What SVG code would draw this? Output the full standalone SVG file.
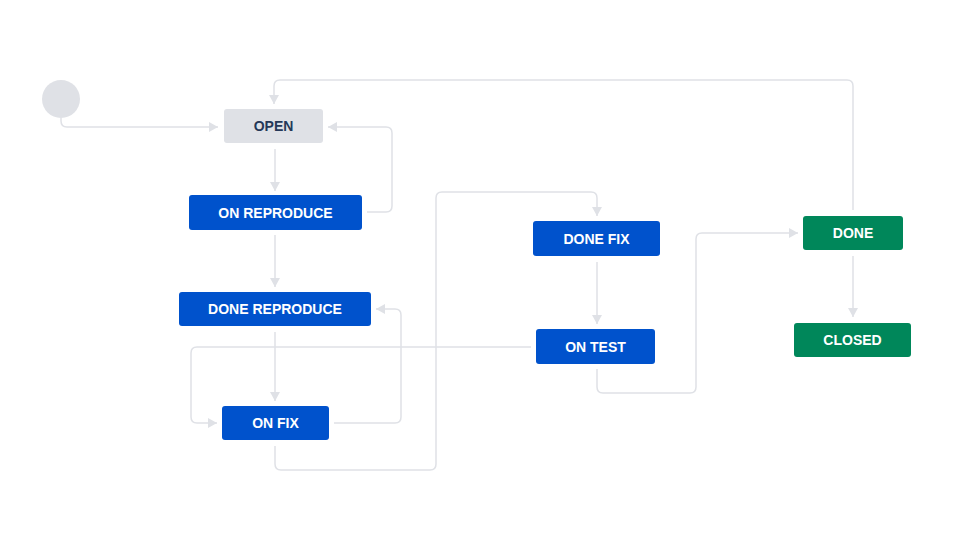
<svg xmlns="http://www.w3.org/2000/svg" width="968" height="554" viewBox="0 0 968 554">
<style>
.bg{fill:#ffffff}
.edge{fill:none;stroke:#dfe1e6;stroke-width:1.5}
.lbl{font-family:"Liberation Sans",Arial,sans-serif;font-size:14px;font-weight:bold;text-anchor:middle}
.blue rect{fill:#0052cc}
.green rect{fill:#00875a}
.blue text,.green text{fill:#ffffff}
.gray rect{fill:#dfe1e6}
.gray text{fill:#253858}
</style>
<defs>
<marker id="arr" markerUnits="userSpaceOnUse" markerWidth="10" markerHeight="10" refX="9" refY="5" orient="auto">
<path d="M0,0 L9,5 L0,10 z" fill="#dfe1e6"/>
</marker>
</defs>
<rect class="bg" x="0" y="0" width="968" height="554"/>
<g id="connectors">
<path class="edge" marker-end="url(#arr)" d="M61,118 V121 Q61,127 67,127 H218"/>
<path class="edge" marker-end="url(#arr)" d="M275,149 V191"/>
<path class="edge" marker-end="url(#arr)" d="M367,212 H386 Q392,212 392,206 V133 Q392,127 386,127 H328"/>
<path class="edge" marker-end="url(#arr)" d="M853,210 V86 Q853,80 847,80 H280 Q274,80 274,86 V104"/>
<path class="edge" marker-end="url(#arr)" d="M275,235 V287"/>
<path class="edge" marker-end="url(#arr)" d="M275,332 V401"/>
<path class="edge" marker-end="url(#arr)" d="M334,423 H395 Q401,423 401,417 V315 Q401,309 395,309 H376"/>
<path class="edge" marker-end="url(#arr)" d="M531,347 H197 Q191,347 191,353 V417 Q191,423 197,423 H217"/>
<path class="edge" marker-end="url(#arr)" d="M275,446 V464 Q275,470 281,470 H430 Q436,470 436,464 V198 Q436,192 442,192 H591 Q597,192 597,198 V216"/>
<path class="edge" marker-end="url(#arr)" d="M597,262 V324"/>
<path class="edge" marker-end="url(#arr)" d="M597,369 V387 Q597,393 603,393 H690 Q696,393 696,387 V239 Q696,233 702,233 H798"/>
<path class="edge" marker-end="url(#arr)" d="M853,256 V317"/>
</g>
<g id="start"><circle cx="61" cy="99" r="19" fill="#dfe1e6"/></g>
<g id="open" class="gray"><rect x="224" y="109" width="99" height="34" rx="3"/><text class="lbl" x="273.5" y="131">OPEN</text></g>
<g id="on-reproduce" class="blue"><rect x="189" y="195" width="173" height="35" rx="3"/><text class="lbl" x="275.5" y="217.5">ON REPRODUCE</text></g>
<g id="done-reproduce" class="blue"><rect x="179" y="292" width="192" height="34" rx="3"/><text class="lbl" x="275" y="314">DONE REPRODUCE</text></g>
<g id="on-fix" class="blue"><rect x="222" y="406" width="107" height="34" rx="3"/><text class="lbl" x="275.5" y="428">ON FIX</text></g>
<g id="done-fix" class="blue"><rect x="533" y="221" width="127" height="35" rx="3"/><text class="lbl" x="596.5" y="244">DONE FIX</text></g>
<g id="on-test" class="blue"><rect x="536" y="329" width="119" height="35" rx="3"/><text class="lbl" x="595.5" y="351.5">ON TEST</text></g>
<g id="done" class="green"><rect x="803" y="216" width="100" height="34" rx="3"/><text class="lbl" x="853" y="238">DONE</text></g>
<g id="closed" class="green"><rect x="794" y="323" width="117" height="34" rx="3"/><text class="lbl" x="852.5" y="345">CLOSED</text></g>
</svg>
